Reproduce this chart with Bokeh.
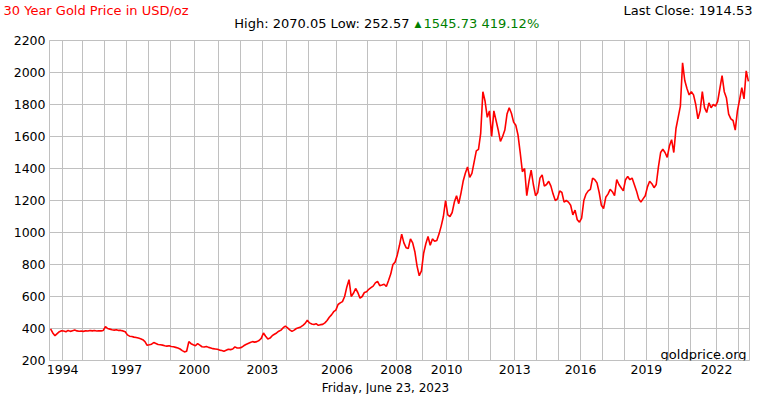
from bokeh.plotting import figure
from bokeh.models import Range1d, FixedTicker, Label, ColumnDataSource
from bokeh.layouts import column
from bokeh.embed import file_html
from bokeh.resources import INLINE
import numpy as np

# ---------------- data ----------------
years = list(range(1993, 2024))
# number of price readings taken in each calendar year (chart x axis is observation index)
samples_per_year = [6, 9, 10, 10, 10, 10, 11, 11, 10, 10,
                    11, 10, 13, 14, 13, 12, 11, 10, 10, 11,
                    10, 10, 10, 10, 10, 10, 10, 10, 12, 10, 5]
labeled_years = [1994, 1997, 2000, 2003, 2006, 2008, 2010, 2013, 2016, 2019, 2022]
price_ticks = [200, 400, 600, 800, 1000, 1200, 1400, 1600, 1800, 2000, 2200]

prices = [
    398, 372, 355, 368, 380, 386,                                   # 1993
    384, 380, 388, 382, 386, 390, 385, 383, 384,                    # 1994
    382, 386, 384, 388, 385, 387, 384, 386, 385, 388,               # 1995
    412, 400, 396, 392, 390, 392, 388, 388, 385, 380,               # 1996
    360, 352, 350, 346, 344, 340, 336, 330, 318, 295,               # 1997
    298, 302, 312, 306, 300, 298, 296, 292, 290, 292,               # 1998
    288, 286, 282, 278, 272, 262, 254, 258, 318, 305, 298,          # 1999
    292, 305, 296, 286, 284, 288, 282, 278, 274, 272, 270,          # 2000
    265, 262, 258, 264, 270, 268, 272, 285, 278, 278,               # 2001
    282, 292, 300, 306, 312, 318, 315, 318, 325, 338,               # 2002
    372, 352, 335, 340, 355, 364, 372, 383, 390, 405, 415,          # 2003
    404, 392, 382, 390, 400, 405, 410, 420, 432, 452,               # 2004
    435, 428, 425, 430, 420, 424, 426, 435, 450, 470, 485, 505, 515,  # 2005
    550, 560, 568, 600, 660, 705, 600, 620, 650, 625, 590, 600, 625, 630,  # 2006
    645, 655, 665, 685, 695, 668, 672, 677, 662, 700, 740, 800, 815,  # 2007
    860, 920, 990, 935, 905, 900, 960, 935, 880, 790, 730, 760,     # 2008
    870, 930, 975, 920, 960, 945, 950, 990, 1040, 1100, 1200,       # 2009
    1110, 1100, 1125, 1190, 1230, 1180, 1245, 1320, 1370, 1410,     # 2010
    1345, 1370, 1440, 1510, 1520, 1620, 1880, 1820, 1720, 1760,     # 2011
    1600, 1760, 1700, 1640, 1570, 1600, 1640, 1740, 1780, 1745, 1690,  # 2012
    1670, 1610, 1500, 1380, 1400, 1230, 1320, 1390, 1300, 1230,     # 2013
    1250, 1340, 1360, 1290, 1300, 1320, 1290, 1240, 1200, 1210,     # 2014
    1260, 1250, 1190, 1200, 1190, 1170, 1110, 1140, 1080, 1065,     # 2015
    1090, 1200, 1240, 1260, 1270, 1340, 1330, 1310, 1250, 1170,     # 2016
    1150, 1220, 1240, 1270, 1255, 1230, 1330, 1300, 1280, 1260,     # 2017
    1330, 1350, 1330, 1340, 1300, 1260, 1210, 1190, 1210, 1230,     # 2018
    1285, 1320, 1305, 1280, 1300, 1410, 1500, 1520, 1500, 1470,     # 2019
    1540, 1580, 1500, 1650, 1720, 1790, 2060, 1950, 1900, 1860,     # 2020
    1880, 1860, 1800, 1710, 1760, 1880, 1780, 1750, 1810, 1780, 1800, 1790,  # 2021
    1820, 1900, 1980, 1880, 1840, 1740, 1710, 1700, 1640, 1760,     # 2022
    1830, 1905, 1835, 2010, 1945,                                   # 2023
]

stat_high = 2070.05
stat_low = 252.57
stat_change = 1545.73
stat_change_pct = 419.12
last_close = 1914.53
date_text = "Friday, June 23, 2023"
title_text = "30 Year Gold Price in USD/oz"
source_text = "goldprice.org"

# ---------------- derived ----------------
n = len(prices)
x = np.arange(n) + 0.5
year_starts = np.concatenate([[0], np.cumsum(samples_per_year)[:-1]]).astype(int)
year_start = {y: int(s) for y, s in zip(years, year_starts)}
grid_ticks = [year_start[y] for y in years[1:]]
label_ticks = [year_start[y] for y in labeled_years]

GRID = "#c0c0c0"
FONT = "DejaVu Sans"
W = 754


def text_strip(h):
    f = figure(width=W, height=h, output_backend="svg", toolbar_location=None,
               x_axis_type=None, y_axis_type=None,
               x_range=Range1d(0, 1), y_range=Range1d(0, 1),
               min_border=0, min_border_left=0, min_border_right=0,
               min_border_top=0, min_border_bottom=0, frame_align=False)
    f.outline_line_color = None
    f.background_fill_color = "white"
    f.border_fill_color = "white"
    f.xgrid.visible = False
    f.ygrid.visible = False
    return f


def lab(fig, text, x, y, color="#000000", align="left", baseline="middle", size="13px"):
    fig.add_layout(Label(x=x, y=y, x_units="screen", y_units="screen", text=text,
                         text_color=color, text_align=align, text_baseline=baseline,
                         text_font=FONT, text_font_size=size))


# header strip (32 px tall)
head = text_strip(32)
lab(head, title_text, 3, 22, color="#ff0000")
lab(head, f"Last Close: {last_close:.2f}", 752, 22, align="right")
lab(head, f"High: {stat_high:.2f} Low: {stat_low:.2f}", 409, 9, align="right")
lab(head, "\u25b2", 414, 9, color="#008000", size="9px")
lab(head, f"{stat_change:.2f} {stat_change_pct:.2f}%", 423, 9, color="#008000")

# main chart
p = figure(width=W, height=348, output_backend="svg", toolbar_location=None,
           x_range=Range1d(0, n), y_range=Range1d(200, 2200), frame_align=False,
           min_border_left=49, min_border_right=5, min_border_top=8, min_border_bottom=20)
p.background_fill_color = "white"
p.border_fill_color = "white"
p.outline_line_color = GRID
p.outline_line_width = 1

src = ColumnDataSource(dict(x=x, price=prices))
p.line("x", "price", source=src, line_color="#ff0000", line_width=1.6)

p.xaxis.ticker = FixedTicker(ticks=label_ticks)
p.xaxis.major_label_overrides = {t: str(y) for t, y in zip(label_ticks, labeled_years)}
p.yaxis.ticker = FixedTicker(ticks=price_ticks)
for ax in (p.xaxis[0], p.yaxis[0]):
    ax.axis_line_color = GRID
    ax.major_tick_line_color = None
    ax.minor_tick_line_color = None
    ax.major_tick_in = 0
    ax.major_tick_out = 0
    ax.minor_tick_out = 0
    ax.major_label_text_font = FONT
    ax.major_label_text_font_size = "12.5px"
    ax.major_label_text_color = "#000000"
p.xaxis.major_label_standoff = 4
p.yaxis.major_label_standoff = 4

p.xgrid.ticker = FixedTicker(ticks=grid_ticks)
p.ygrid.ticker = FixedTicker(ticks=price_ticks)
for g in (p.xgrid[0], p.ygrid[0]):
    g.grid_line_color = GRID
    g.grid_line_alpha = 1.0
    g.grid_line_width = 1

lab(p, source_text, 697, 6, align="right", baseline="alphabetic")

# footer strip with the date
foot = text_strip(14)
lab(foot, date_text, 385, 7, align="center", size="12px")

layout = column(head, p, foot, spacing=0)
open("out.html", "w").write(file_html(layout, INLINE))
